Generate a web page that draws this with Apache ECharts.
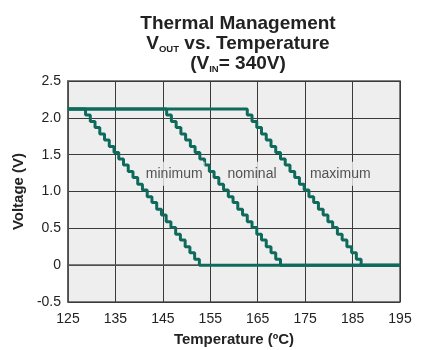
<!DOCTYPE html>
<html><head><meta charset="utf-8">
<script src="https://cdn.jsdelivr.net/npm/echarts@6/dist/echarts.min.js"></script>
<style>html,body{margin:0;padding:0;background:#fff}#c{width:424px;height:350px}</style>
</head><body><div id="c"></div>
<script>
var xTicks = [125, 135, 145, 155, 165, 175, 185, 195];
var yTicks = [-0.5, 0, 0.5, 1.0, 1.5, 2.0, 2.5];
var levels = [2.12,2.04,1.95,1.87,1.78,1.70,1.61,1.53,1.44,1.36,1.27,1.19,1.10,1.02,0.93,0.85,0.76,0.68,0.59,0.51,0.42,0.34,0.25,0.17,0.08,0,0];
var minTemps = [125,128.7,129.7,130.7,131.7,132.7,133.7,134.7,135.7,136.7,137.7,138.7,139.7,140.7,141.7,142.7,143.7,144.7,145.7,146.7,147.7,148.7,149.7,150.7,151.7,152.7,195];
var nomTemps = [125,145.8,146.8,147.8,148.8,149.8,150.8,151.8,152.8,153.8,154.8,155.8,156.8,157.8,158.8,159.8,160.8,161.8,162.8,163.8,164.8,165.8,166.8,167.8,168.8,169.8,195];
var maxTemps = [125,162.8,163.8,164.8,165.8,166.8,167.8,168.8,169.8,170.8,171.8,172.8,173.8,174.8,175.8,176.8,177.8,178.8,179.8,180.8,181.8,182.8,183.8,184.8,185.8,186.8,195];
var curveNames = ['minimum', 'nominal', 'maximum'];
var labelPos = [[147.4, 1.24], [163.8, 1.24], [182.4, 1.24]];

var FONT = 'Liberation Sans, Arial, sans-serif';
var COLOR = '#0e6b5c';
function pairs(t, v) { return t.map(function (x, i) { return [x, v[i]]; }); }
var curves = [minTemps, nomTemps, maxTemps];
var series = curves.map(function (t, i) {
  return {
    type: 'line', name: curveNames[i], step: 'end', showSymbol: false,
    lineStyle: { color: COLOR, width: 3 }, data: pairs(t, levels), z: 3, animation: false
  };
});
series.push({
  type: 'scatter', symbolSize: 0, z: 4, animation: false,
  data: labelPos.map(function (p, i) { return { value: p, name: curveNames[i] }; }),
  label: {
    show: true, position: 'inside', formatter: '{b}', color: '#2a2a2a', fontSize: 14,
    fontFamily: FONT, backgroundColor: '#eeeeee', padding: [5, 2]
  }
});

var chart = echarts.init(document.getElementById('c'), null, { renderer: 'canvas' });
chart.setOption({
  animation: false,
  title: {
    left: 233, top: 9, textAlign: 'center',
    text: '{b|Thermal Management}\n{b|V}{s|OUT}{b| vs. Temperature}\n{b|(V}{s|IN}{b|= 340V)}',
    textStyle: {
      rich: {
        b: { fontSize: 19, fontWeight: 'bold', fontFamily: FONT, color: '#222', lineHeight: 20 },
        s: { fontSize: 9.5, fontWeight: 'bold', fontFamily: FONT, color: '#222', lineHeight: 14, verticalAlign: 'bottom' }
      }
    }
  },
  grid: { left: 68, right: 24, top: 81, bottom: 48, outerBoundsMode: 'none', containLabel: false,
    show: true, backgroundColor: '#eeeeee', borderColor: '#555', borderWidth: 1.5 },
  xAxis: {
    type: 'value', min: 125, max: 195, interval: 10,
    name: 'Temperature (ºC)', nameLocation: 'middle', nameGap: 30,
    nameTextStyle: { fontSize: 15, fontWeight: 'bold', fontFamily: FONT, color: '#222' },
    axisLine: { lineStyle: { color: '#555', width: 1.5 } }, axisTick: { show: false },
    axisLabel: { fontSize: 14, fontFamily: FONT, color: '#222', margin: 10 },
    splitLine: { lineStyle: { color: '#3a3a3a', width: 1 } }
  },
  yAxis: {
    type: 'value', min: -0.5, max: 2.5, interval: 0.5,
    name: 'Voltage (V)', nameLocation: 'middle', nameGap: 31,
    nameTextStyle: { fontSize: 15, fontWeight: 'bold', fontFamily: FONT, color: '#222' },
    axisLine: { show: true, lineStyle: { color: '#555', width: 1.5 } }, axisTick: { show: false },
    axisLabel: { fontSize: 14, fontFamily: FONT, color: '#222', margin: 7,
      formatter: function (v) { return v === 0 ? '0' : v.toFixed(1); } },
    splitLine: { lineStyle: { color: '#3a3a3a', width: 1 } }
  },
  series: series
});
</script></body></html>
